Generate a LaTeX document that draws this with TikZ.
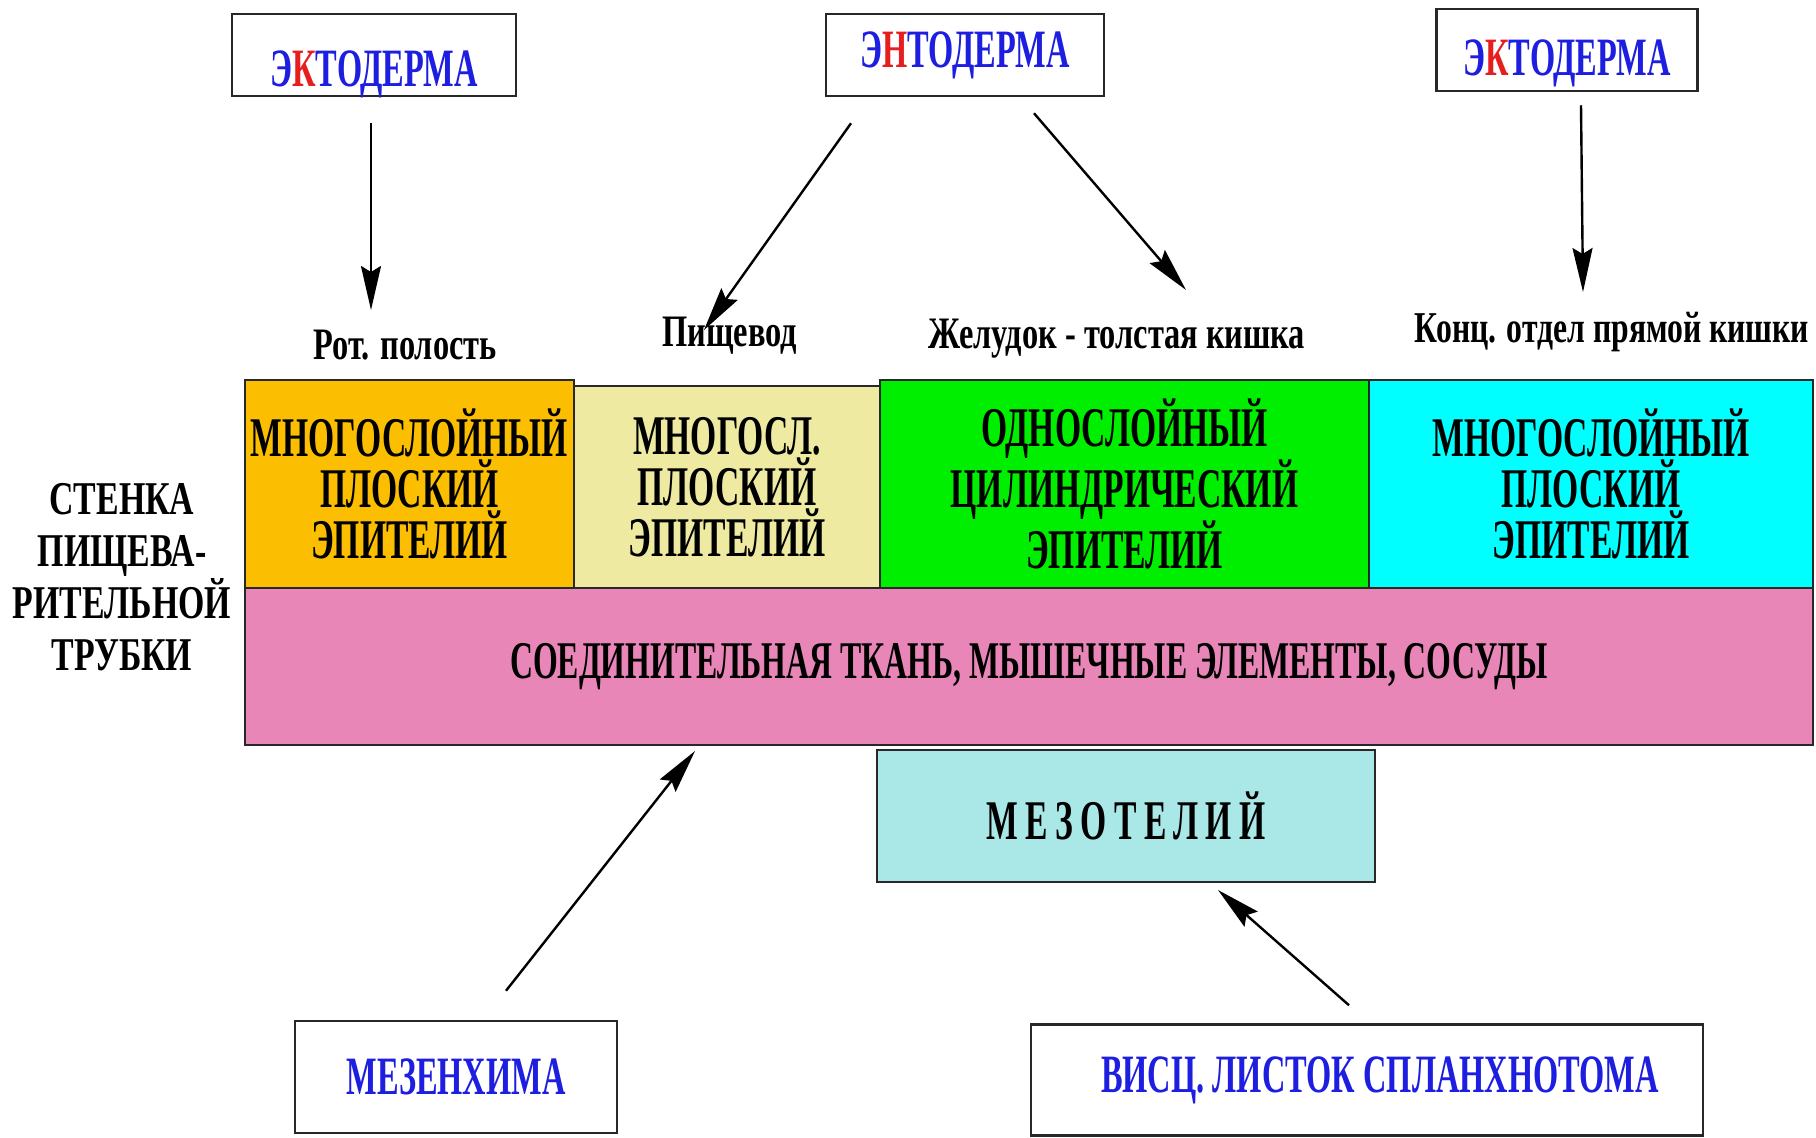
\documentclass[tikz,border=0pt]{standalone}
\usepackage{fontspec}
\setmainfont{Liberation Serif}
\newfontfamily\boxfont{Liberation Serif}[FakeStretch=0.6]
\newfontfamily\labfont{Liberation Serif}[FakeStretch=0.72]
\newfontfamily\spacedfont{Liberation Serif}[FakeStretch=0.6,LetterSpace=13]
\usetikzlibrary{positioning}
\usetikzlibrary{arrows.meta}

\definecolor{linedark}{RGB}{40,40,40}
\definecolor{epiorange}{RGB}{252,190,0}
\definecolor{epiyellow}{RGB}{238,234,162}
\definecolor{epigreen}{RGB}{0,238,0}
\definecolor{epicyan}{RGB}{0,255,255}
\definecolor{ctpink}{RGB}{232,134,184}
\definecolor{mesocyan}{RGB}{170,232,232}
\definecolor{blutext}{RGB}{30,30,225}
\definecolor{redtext}{RGB}{230,30,30}

\tikzset{
  layer/.style={shape=rectangle, draw=linedark, line width=2pt, inner sep=0pt, align=center,
    font=\boxfont\bfseries\fontsize{56}{51}\selectfont},
  srcbox/.style={shape=rectangle, draw=linedark, line width=2.5pt, fill=white, inner sep=0pt,
    text=blutext, font=\boxfont\bfseries\fontsize{54}{54}\selectfont},
  lbl/.style={inner sep=0pt, align=center, font=\labfont\bfseries\fontsize{45}{52}\selectfont},
  arr/.style={-{Stealth[length=44pt,width=20pt,inset=6pt]}, line width=2.4pt}
}

\begin{document}
\begin{tikzpicture}[x=1pt,y=-1pt]
      \useasboundingbox (0,0) rectangle (1816,1138);

      % germ layers
      \node[srcbox, minimum width=284, minimum height=82, text height=62pt, text depth=0pt] (ecto1) at (374,55) {Э{\color{redtext}К}ТОДЕРМА};
      \node[srcbox, minimum width=278, minimum height=82] (ento) at (965,55) {Э{\color{redtext}Н}ТОДЕРМА};
      \node[srcbox, minimum width=261, minimum height=82, text height=50pt, text depth=0pt] (ecto2) at (1567,50) {Э{\color{redtext}К}ТОДЕРМА};
      \node[srcbox, minimum width=322, minimum height=112] (mesench) at (456,1077) {МЕЗЕНХИМА};
      \node[srcbox, minimum width=672, minimum height=111] (visc) at (1367,1080) {\hspace{26pt}ВИСЦ. ЛИСТОК СПЛАНХНОТОМА};

      % regions
      \node[lbl] (mouth) at (405,345) {Рот. полость};
      \node[lbl] (gullet) at (730,336) {Пищевод};
      \node[lbl] (stomach) at (1117,339) {Желудок - толстая кишка};
      \node[lbl, font=\labfont\bfseries\fontsize{44}{52}\selectfont] (rectum) at (1612,332) {Конц. отдел прямой кишки};
      \node[lbl, font=\labfont\bfseries\fontsize{47}{52}\selectfont] (wall) at (122,577) {СТЕНКА\\ПИЩЕВА-\\РИТЕЛЬНОЙ\\ТРУБКИ};

      % wall layers
      \node[layer, fill=ctpink, minimum width=1568, minimum height=157, font=\boxfont\bfseries\fontsize{53}{52}\selectfont] (ct) at (1029,666.5) {СОЕДИНИТЕЛЬНАЯ ТКАНЬ, МЫШЕЧНЫЕ ЭЛЕМЕНТЫ, СОСУДЫ};
      \node[layer, fill=epiorange, minimum width=329, minimum height=208] (epi1) at (409.5,484) {МНОГОСЛОЙНЫЙ\\ПЛОСКИЙ\\ЭПИТЕЛИЙ};
      \node[layer, fill=epiyellow, minimum width=306, minimum height=202] (epi2) at (727,487) {МНОГОСЛ.\\ПЛОСКИЙ\\ЭПИТЕЛИЙ};
      \node[layer, fill=epigreen, minimum width=489, minimum height=208] (epi3) at (1124.5,484) {ОДНОСЛОЙНЫЙ\\ЦИЛИНДРИЧЕСКИЙ\\ЭПИТЕЛИЙ};
      \node[layer, fill=epicyan, minimum width=444, minimum height=208] (epi4) at (1591,484) {МНОГОСЛОЙНЫЙ\\ПЛОСКИЙ\\ЭПИТЕЛИЙ};
      \node[layer, fill=mesocyan, minimum width=498, minimum height=132, font=\spacedfont\bfseries\fontsize{56}{52}\selectfont] (meso) at (1126,816) {МЕЗОТЕЛИЙ};

      \draw[arr] ([xshift=-3,yshift=-26]ecto1.south) -- ([xshift=-34,yshift=35]mouth.center);
      \draw[arr] ([xshift=-114,yshift=-26]ento.south) -- ([xshift=-26,yshift=6]gullet.center);
      \draw[arr] ([xshift=69,yshift=-16]ento.south) -- ([xshift=69,yshift=49]stomach.center);
      \draw[arr] ([xshift=14,yshift=-13]ecto2.south) -- ([xshift=-29,yshift=40]rectum.center);
      \draw[arr] ([xshift=50,yshift=29]mesench.north) -- ([xshift=-334,yshift=-5]ct.south);
      \draw[arr] ([xshift=-18,yshift=18]visc.north) -- ([xshift=92,yshift=-7]meso.south);
    \end{tikzpicture}
\end{document}
